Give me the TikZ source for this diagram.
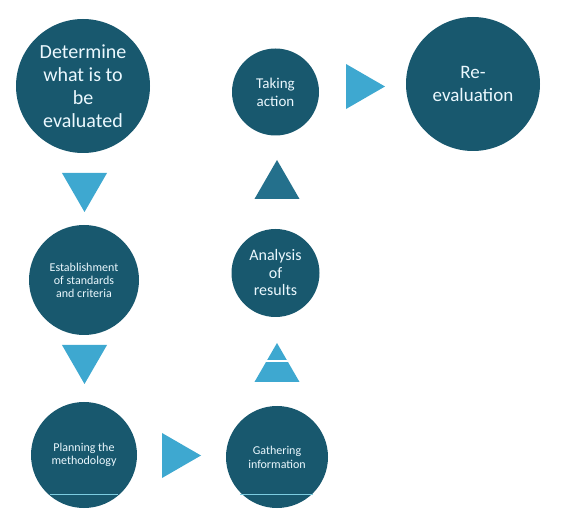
\documentclass[tikz,border=0pt]{standalone}
\usepackage{fontspec}
\setmainfont{Carlito}
\usetikzlibrary{shapes.geometric}
\definecolor{stageteal}{RGB}{24,88,110}
\definecolor{pointerblue}{RGB}{62,168,208}
\definecolor{pointerdark}{RGB}{36,112,140}
\definecolor{scanline}{RGB}{125,205,225}

\begin{document}
\begin{tikzpicture}[x=1pt,y=-1pt,
  stage/.style={circle,fill=stageteal,text=white!92!cyan,align=center,inner sep=0pt},
  pointer/.style={regular polygon,regular polygon sides=3,fill=pointerblue,minimum size=52pt,inner sep=0pt}]
\useasboundingbox (0,0) rectangle (566,532);
% stages
\node[stage,minimum size=134pt,font=\fontsize{20}{23}\selectfont] (determine) at (83,86) {Determine\\what is to\\be\\evaluated};
\node[stage,minimum size=110pt,font=\fontsize{12}{13}\selectfont] (standards) at (84,280) {Establishment\\of standards\\and criteria};
\node[stage,minimum size=106pt,font=\fontsize{12}{13.5}\selectfont] (planning) at (84,455) {Planning the\\methodology};
\node[stage,minimum size=102pt,font=\fontsize{12}{14}\selectfont] (gathering) at (277,457) {Gathering\\information};
\node[stage,minimum size=88pt,font=\fontsize{16}{17.5}\selectfont] (analysis) at (275.5,273) {Analysis\\of\\results};
\node[stage,minimum size=87pt,font=\fontsize{15}{18}\selectfont] (action) at (275.5,92) {Taking\\action};
\node[stage,minimum size=134pt,font=\fontsize{19}{23}\selectfont] (reeval) at (473,84) {Re-\\evaluation};
% pointers
\node[pointer,shape border rotate=180] (down1) at (84.5,186) {};
\node[pointer,shape border rotate=180] (down2) at (84.5,358) {};
\node[pointer,shape border rotate=-90] (right1) at (175,455.5) {};
\node[pointer] (up1) at (277,369) {};
\node[pointer,fill=pointerdark] (up2) at (277,186) {};
\node[pointer,shape border rotate=-90] (right2) at (359,86.5) {};
% scan marks
\draw[white,line width=1.2pt] ([xshift=-14pt,yshift=8pt]up1.center) -- ([xshift=14pt,yshift=8pt]up1.center);
\draw[scanline,line width=1pt] (50,494) -- (118,494);
\draw[scanline,line width=1pt] (240,494) -- (313,494);
\end{tikzpicture}
\end{document}
